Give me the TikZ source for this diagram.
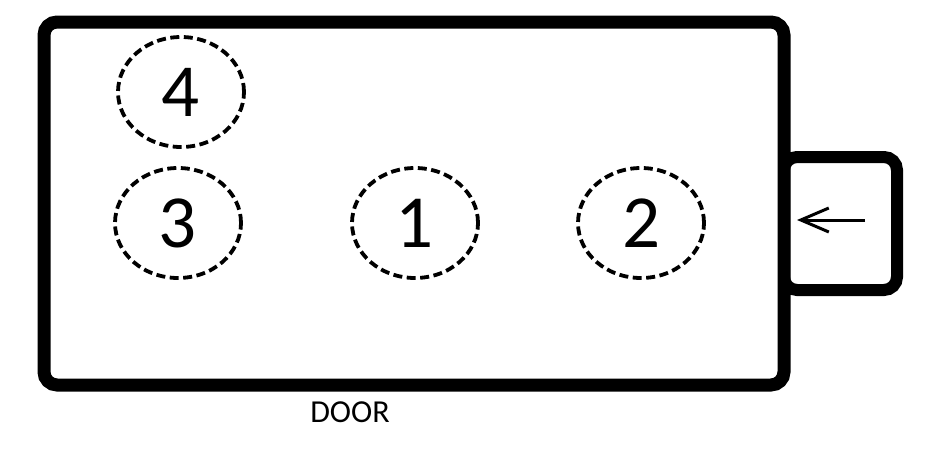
\documentclass[tikz,border=0pt]{standalone}
\usepackage{fontspec}
\setmainfont{Carlito}
\usetikzlibrary{shapes.geometric,arrows.meta}

\begin{document}
\begin{tikzpicture}[x=1pt,y=-1pt,
    wall/.style={draw,line width=13pt,rounded corners=13pt,inner sep=0pt},
    spot/.style={ellipse,draw,line width=3.8pt,dash pattern=on 9pt off 4.5pt,
      minimum width=126pt,minimum height=110pt,inner sep=0pt,
      font=\fontsize{75}{75}\selectfont}]
    \useasboundingbox (0,0) rectangle (936,450);
    \node[wall,minimum width=740pt,minimum height=363pt] (room) at (414,203.5) {};
    \node[wall,line width=12pt,minimum width=113pt,minimum height=133pt] (entry) at (840.5,223.5) {};
    \foreach \n/\x/\y in {4/181/92,3/178/223,1/415/223,2/641/223}
      \node[spot] (spot\n) at (\x,\y) {\n};
    \coordinate (tail) at (865,220);
    \coordinate (tip) at (797,220);
    \draw[line width=3pt,-{Straight Barb[length=28pt,width=24pt]}] (tail) -- (tip);
    \node[font=\fontsize{32}{32}\selectfont] (door) at (350,412) {DOOR};
\end{tikzpicture}
\end{document}
